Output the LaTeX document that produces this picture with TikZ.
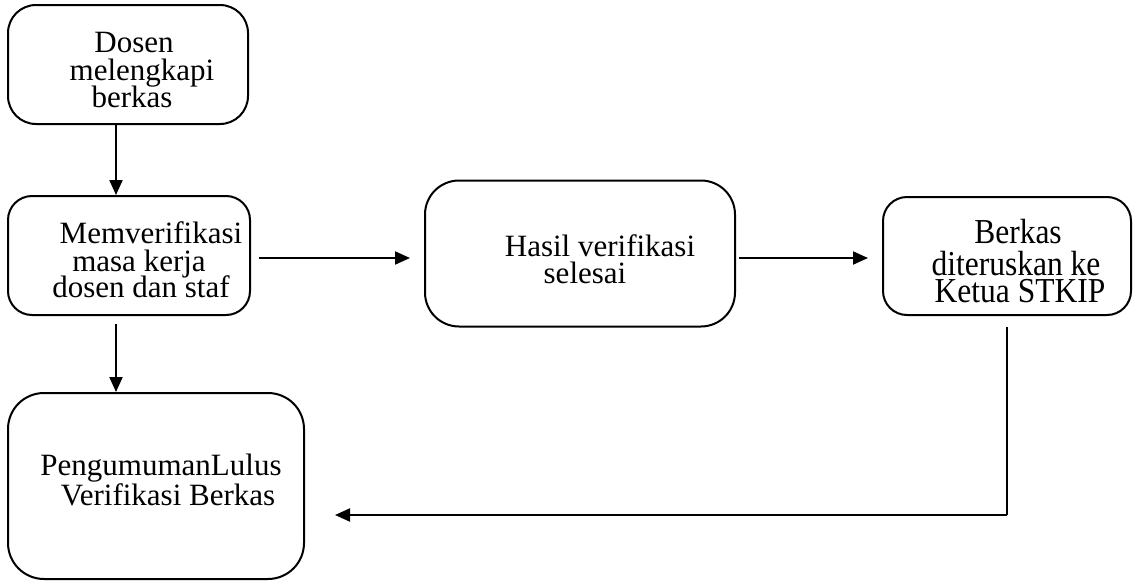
\documentclass[tikz,border=0pt]{standalone}
\usepackage{fontspec}
\setmainfont{Liberation Serif}
\newfontfamily\dfont[FakeStretch=0.9]{Liberation Serif}
\usetikzlibrary{arrows.meta}
\begin{document}
\begin{tikzpicture}[x=1pt,y=-1pt,
  box/.style={draw, line width=2pt, inner sep=0pt},
  txt/.style={anchor=base, inner sep=0pt, font=\fontsize{31}{31}\selectfont},
  txtd/.style={anchor=base, inner sep=0pt, font=\dfont\fontsize{35}{35}\selectfont},
  arr/.style={line width=2pt, -{Triangle[length=15pt,width=13pt]}},
  ln/.style={line width=2pt}]
\useasboundingbox (0,0) rectangle (1133,581);
% boxes
\node[box, rounded corners=28pt, minimum width=240pt, minimum height=119pt] (A) at (128,64.5) {};
\node[box, rounded corners=24pt, minimum width=242pt, minimum height=119pt] (B) at (129,255.5) {};
\node[box, rounded corners=34pt, minimum width=310pt, minimum height=146pt] (C) at (580,253.5) {};
\node[box, rounded corners=24pt, minimum width=248pt, minimum height=118pt] (D) at (1007,256) {};
\node[box, rounded corners=36pt, minimum width=296pt, minimum height=186pt] (E) at (156,486) {};
% texts
\node[txt] (a1) at (134,52) {Dosen};
\node[txt] (a2) at (142,80) {melengkapi};
\node[txt] (a3) at (132,107) {berkas};
\node[txt] (b1) at (151,243) {Memverifikasi};
\node[txt] (b2) at (139,271) {masa kerja};
\node[txt] (b3) at (141,297) {dosen dan staf};
\node[txt] (c1) at (600,256) {Hasil verifikasi};
\node[txt] (c2) at (585,283) {selesai};
\node[txtd] (d1) at (1018,243) {Berkas};
\node[txtd] (d2) at (1016,275) {diteruskan ke};
\node[txtd] (d3) at (1020,302) {Ketua STKIP};
\node[txt] (e1) at (161,475) {PengumumanLulus};
\node[txt] (e2) at (168,505) {Verifikasi Berkas};
% connector helpers
\coordinate (xl) at (116,0);
\coordinate (yh) at (0,258);
\coordinate (xr) at (1007,0);
\coordinate (yb) at (0,515);
\coordinate (dstart) at (1007,327);
\coordinate (eend) at (335,515);
% connectors
\draw[arr] (A.south -| xl) -- (B.north -| xl);
\draw[arr, shorten <=8pt] (B.south -| xl) -- (E.north -| xl);
\draw[arr, shorten <=8pt, shorten >=14pt] (B.east |- yh) -- (C.west |- yh);
\draw[arr, shorten <=3pt, shorten >=14pt] (C.east |- yh) -- (D.west |- yh);
\draw[ln] (dstart) -- (xr |- yb);
\draw[arr] (xr |- yb) -- (eend);
\end{tikzpicture}
\end{document}
